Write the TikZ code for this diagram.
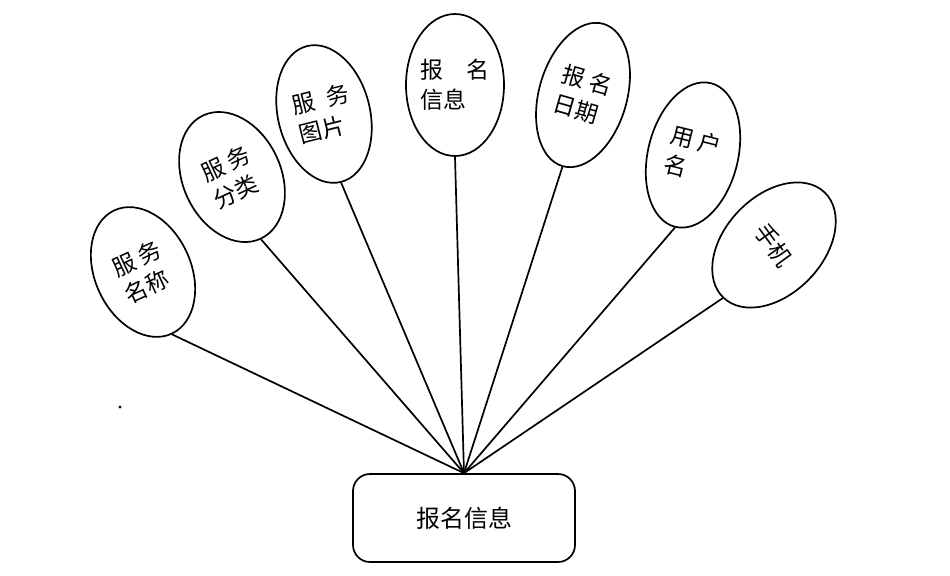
\documentclass[tikz,border=0pt]{standalone}
\usepackage{fontspec}
\newfontfamily\cjk{Noto Sans CJK SC}
\usetikzlibrary{shapes.geometric}

\begin{document}
\begin{tikzpicture}[
  x=0.5pt, y=-0.5pt,
  attr/.style={draw, ellipse, line width=0.85pt, inner sep=0pt,
               font=\cjk\fontsize{11.5}{15}\selectfont, align=left},
  entity/.style={draw, rounded corners=8.5pt, line width=0.85pt,
                 minimum width=111pt, minimum height=44pt,
                 font=\cjk\fontsize{12}{14}\selectfont},
  link/.style={line width=0.85pt},
]
\useasboundingbox (0,0) rectangle (950,575);

% entity box
\node[entity] (info) at (464,518) {报名信息};

% attribute ellipses, left to right
\node[attr, minimum width=48pt, minimum height=68pt, rotate=25]  (fwmc) at (143,272) {服 务\\名称};
\node[attr, minimum width=49pt, minimum height=68pt, rotate=25]  (fwfl) at (232,177) {服 务\\分类};
\node[attr, minimum width=46pt, minimum height=70pt, rotate=14]  (fwtp) at (324,114) {服\enspace 务\\图片};
\node[attr, minimum width=49pt, minimum height=71pt]             (bmxx) at (455,85)  {报\quad 名\\信息};
\node[attr, minimum width=44pt, minimum height=74pt, rotate=-16] (bmrq) at (583,95)  {报 名\\日期};
\node[attr, minimum width=45pt, minimum height=74pt, rotate=-14] (yhm)  at (693,155) {用 户\\名};
\node[attr, minimum width=49pt, minimum height=73pt, rotate=-44] (sj)   at (774,245) {\rotatebox{-10}{手机}};

% connectors
\foreach \a in {fwmc,fwfl,fwtp,bmxx,bmrq,yhm,sj}
  \draw[link] (\a.south) -- (info.north);

% stray mark
\fill (120,407) circle (0.8pt);

\end{tikzpicture}
\end{document}
